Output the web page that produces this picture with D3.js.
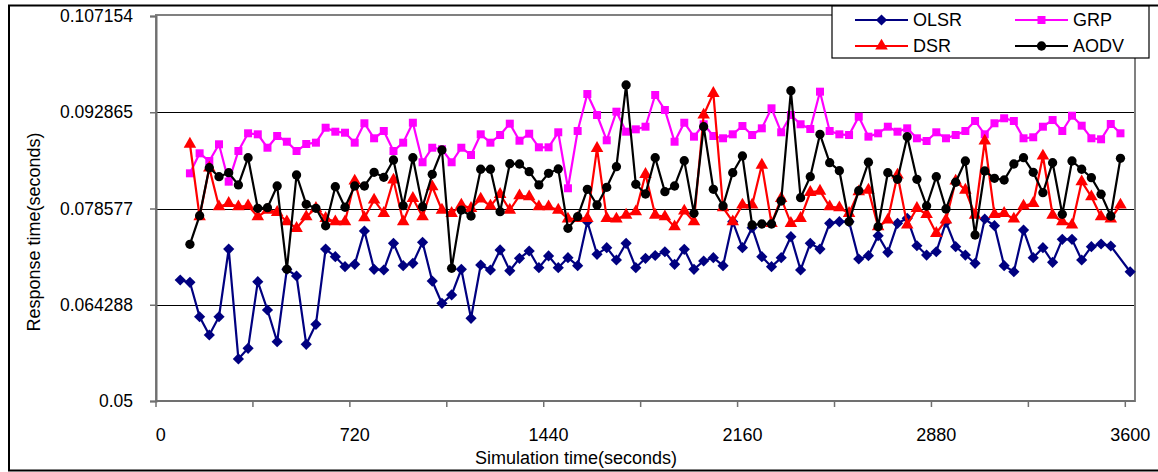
<!DOCTYPE html>
<html><head><meta charset="utf-8">
<script src="https://cdn.jsdelivr.net/npm/d3@7"></script>
<style>
html,body{margin:0;padding:0;background:#fff;}
svg text{font-family:"Liberation Sans",Arial,sans-serif;fill:#000;}
</style></head>
<body><svg id="c" width="1158" height="472"></svg>
<script>
// ---- data ----
const stepSeconds = 36;
const categories = d3.range(0, 3601, stepSeconds); // x categories (seconds)
const xTickLabels = [0, 720, 1440, 2160, 2880, 3600];
const yTickValues = [0.05, 0.064288, 0.078577, 0.092865, 0.107154];
const yTickLabels = ["0.05", "0.064288", "0.078577", "0.092865", "0.107154"];
const seriesNames = ["OLSR", "GRP", "DSR", "AODV"];

const olsrStart = 72;
const olsr = [0.06796,0.06762,0.06251,0.05980,0.06251,0.07256,0.05624,0.05782,0.06771,0.06351,
0.05880,0.06955,0.06856,0.05842,0.06139,0.07256,0.07142,0.06994,0.07029,0.07524,
0.06955,0.06945,0.07341,0.07009,0.07044,0.07356,0.06781,0.06450,0.06574,0.06955,
0.06228,0.07019,0.06945,0.07242,0.06934,0.07118,0.07227,0.06979,0.07153,0.06979,
0.07127,0.07009,0.07662,0.07178,0.07276,0.07093,0.07341,0.06979,0.07118,0.07160,
0.07216,0.07029,0.07252,0.06955,0.07078,0.07127,0.07009,0.07662,0.07276,0.07573,
0.07142,0.06994,0.07127,0.07439,0.06945,0.07341,0.07256,0.07638,0.07662,0.07662,
0.07108,0.07157,0.07454,0.07207,0.07638,0.07712,0.07305,0.07167,0.07216,0.07653,
0.07291,0.07167,0.07044,0.07702,0.07602,0.07009,0.06919,0.07538,0.07127,0.07276,
0.07059,0.07400,0.07400,0.07093,0.07291,0.07331,0.07301,null,0.06919];

const otherStart = 108;
const dsr = [0.08815,0.07736,0.08459,0.07884,0.07935,0.07884,0.07899,0.07736,0.07835,0.07801,
0.07662,0.07564,0.07736,0.07861,0.07712,0.07662,0.07662,0.08266,0.07721,0.07984,
0.07786,0.08281,0.07662,0.08009,0.07736,0.08181,0.07835,0.07786,0.07910,0.07861,
0.07999,0.07895,0.08069,0.07835,0.08048,0.08033,0.07884,0.07884,0.07835,0.07702,
0.07712,0.07712,0.08751,0.07712,0.07702,0.07761,0.07810,0.08365,0.07761,0.07736,
0.07587,0.07821,0.07662,0.09246,0.09568,0.07870,0.07662,0.07910,0.07910,0.08503,
0.07638,0.08009,0.07638,0.07712,0.08098,0.08117,0.07884,0.07870,0.07786,0.08107,
0.08132,0.07587,0.07687,0.08355,0.07613,0.07861,0.07772,0.07490,0.07687,0.08266,
0.08132,0.07761,0.08860,0.07772,0.07786,0.07702,0.07895,0.07935,0.08637,0.07761,
0.07662,0.07613,0.08256,0.08033,0.07736,0.07702,0.07910];

const grp = [0.08380,0.08677,0.08563,0.08811,0.08256,0.08711,0.08974,0.08959,0.08760,0.08934,
0.08849,0.08711,0.08815,0.08835,0.09057,0.08998,0.08983,0.08835,0.09123,0.08900,
0.09008,0.08711,0.08835,0.09131,0.08544,0.08760,0.08737,0.08544,0.08760,0.08652,
0.08959,0.08835,0.08949,0.09117,0.08864,0.08968,0.08766,0.08766,0.08989,0.08158,
0.09008,0.09557,0.09246,0.08870,0.09295,0.08998,0.09033,0.09072,0.09543,0.09320,
0.08849,0.09131,0.08924,0.09108,0.08934,0.08900,0.08959,0.09082,0.08949,0.09048,
0.09345,0.08989,0.09246,0.09108,0.09038,0.09592,0.09008,0.08959,0.08949,0.09220,
0.08924,0.08974,0.09072,0.08998,0.09048,0.08900,0.08860,0.08989,0.08900,0.08949,
0.09008,0.09157,0.08959,0.09123,0.09197,0.09157,0.08900,0.08915,0.09072,0.09171,
0.09008,0.09235,0.09087,0.08900,0.08885,0.09112,0.08974];

const aodv = [0.07326,0.07751,0.08463,0.08330,0.08389,0.08207,0.08612,0.07861,0.07870,0.08192,
0.06955,0.08355,0.07920,0.07861,0.07602,0.08181,0.07876,0.08192,0.08192,0.08395,
0.08321,0.08578,0.07899,0.08612,0.07884,0.08365,0.08726,0.06970,0.07835,0.07746,
0.08440,0.08440,0.07810,0.08523,0.08518,0.08404,0.08207,0.08380,0.08444,0.07564,
0.07736,0.08143,0.07910,0.08172,0.08478,0.09691,0.08217,0.08073,0.08612,0.08107,
0.08192,0.08567,0.07786,0.09072,0.08143,0.07895,0.08389,0.08637,0.07613,0.07628,
0.07628,0.07969,0.09606,0.08018,0.08330,0.08959,0.08538,0.08419,0.07662,0.08122,
0.08544,0.07587,0.08389,0.08291,0.08924,0.08291,0.07895,0.08330,0.07850,0.08247,
0.08563,0.07464,0.08414,0.08306,0.08281,0.08518,0.08612,0.08395,0.08092,0.08538,
0.07772,0.08563,0.08440,0.08315,0.08069,0.07746,0.08603];

// ---- chart ----
const svg = d3.select("#c");
const plot = {left:156, right:1135, top:16, bottom:401};
const x = d3.scaleBand().domain(categories).range([plot.left, plot.right]).padding(0);
const xc = t => x(t) + x.bandwidth()/2;
const y = d3.scaleLinear().domain([yTickValues[0], yTickValues[yTickValues.length-1]]).range([plot.bottom, plot.top]);

// outer frame
svg.append("rect").attr("x",9).attr("y",5.5).attr("width",1160).attr("height",465)
  .attr("fill","none").attr("stroke","#000").attr("stroke-width",2);

// gridlines
svg.append("g").selectAll("line").data(yTickValues.slice(1,-1)).join("line")
  .attr("x1",plot.left).attr("x2",plot.right)
  .attr("y1",d=>Math.round(y(d))+0.5).attr("y2",d=>Math.round(y(d))+0.5)
  .attr("stroke","#000").attr("stroke-width",1);

// plot area border
svg.append("rect").attr("x",plot.left).attr("y",plot.top-1).attr("width",plot.right-plot.left).attr("height",plot.bottom-plot.top+1)
  .attr("fill","none").attr("stroke","#808080").attr("stroke-width",2);

// y axis
const yAxis = d3.axisLeft(y).tickValues(yTickValues).tickFormat((d,i)=>yTickLabels[i]).tickSize(6).tickPadding(17);
const gy = svg.append("g").attr("transform",`translate(${plot.left},0)`).call(yAxis);
gy.select(".domain").attr("stroke","#707070").attr("stroke-width",2);
gy.selectAll(".tick line").attr("stroke","#707070").attr("stroke-width",1.5);
gy.selectAll(".tick text").style("font-size","17.5px").attr("fill","#000");

// x axis
svg.append("line").attr("x1",plot.left).attr("x2",plot.right).attr("y1",plot.bottom).attr("y2",plot.bottom)
  .attr("stroke","#707070").attr("stroke-width",2);
const tickCats = categories.filter((c,i)=>i%10===0);
svg.append("g").selectAll("line").data(tickCats).join("line")
  .attr("x1",d=>x(d)).attr("x2",d=>x(d)).attr("y1",plot.bottom).attr("y2",plot.bottom+6)
  .attr("stroke","#707070").attr("stroke-width",1.5);
svg.append("g").selectAll("text").data(xTickLabels).join("text")
  .attr("x",d=>xc(d)).attr("y",441).attr("text-anchor","middle").style("font-size","18px").text(d=>d);

// titles
svg.append("text").attr("x",576).attr("y",464).attr("text-anchor","middle").style("font-size","18px")
  .text("Simulation time(seconds)");
svg.append("text").attr("transform","translate(40,232) rotate(-90)").attr("text-anchor","middle").style("font-size","18px")
  .text("Response time(seconds)");

// series
const series = [
  {name:seriesNames[0], color:"#000080", marker:"diamond", start:olsrStart, values:olsr},
  {name:seriesNames[1], color:"#FF00FF", marker:"square", start:otherStart, values:grp},
  {name:seriesNames[2], color:"#FF0000", marker:"triangle", start:otherStart, values:dsr},
  {name:seriesNames[3], color:"#000000", marker:"circle", start:otherStart, values:aodv}
];
const symbolFor = {
  diamond: d3.symbol().type(d3.symbolDiamond2).size(80),
  square: d3.symbol().type(d3.symbolSquare).size(64),
  triangle: d3.symbol().type(d3.symbolTriangle).size(68),
  circle: d3.symbol().type(d3.symbolCircle).size(68)
};
const line = d3.line().x(d=>xc(d.t)).y(d=>y(d.v));
series.forEach(s=>{
  const pts = s.values.map((v,k)=>({t:s.start+stepSeconds*k, v})).filter(d=>d.v!=null);
  const g = svg.append("g");
  g.append("path").datum(pts).attr("d",line).attr("fill","none").attr("stroke",s.color).attr("stroke-width",2.2);
  g.selectAll("path.m").data(pts).join("path").attr("class","m")
    .attr("transform",d=>`translate(${xc(d.t)},${y(d.v)})`)
    .attr("d",symbolFor[s.marker]()).attr("fill",s.color);
});

// legend
const lg = svg.append("g");
lg.append("rect").attr("x",832).attr("y",6).attr("width",317).attr("height",52)
  .attr("fill","#fff").attr("stroke","#000").attr("stroke-width",1.2);
const legPos = [{x:855,y:20},{x:1015,y:20},{x:855,y:46},{x:1015,y:46}];
series.forEach((s,i)=>{
  const p = legPos[i];
  lg.append("line").attr("x1",p.x).attr("x2",p.x+53).attr("y1",p.y).attr("y2",p.y)
    .attr("stroke",s.color).attr("stroke-width",2.2);
  lg.append("path").attr("transform",`translate(${p.x+26.5},${p.y})`).attr("d",symbolFor[s.marker]()).attr("fill",s.color);
  lg.append("text").attr("x",p.x+58).attr("y",p.y).attr("dy","0.35em").style("font-size","18px").text(s.name);
});
</script></body></html>
